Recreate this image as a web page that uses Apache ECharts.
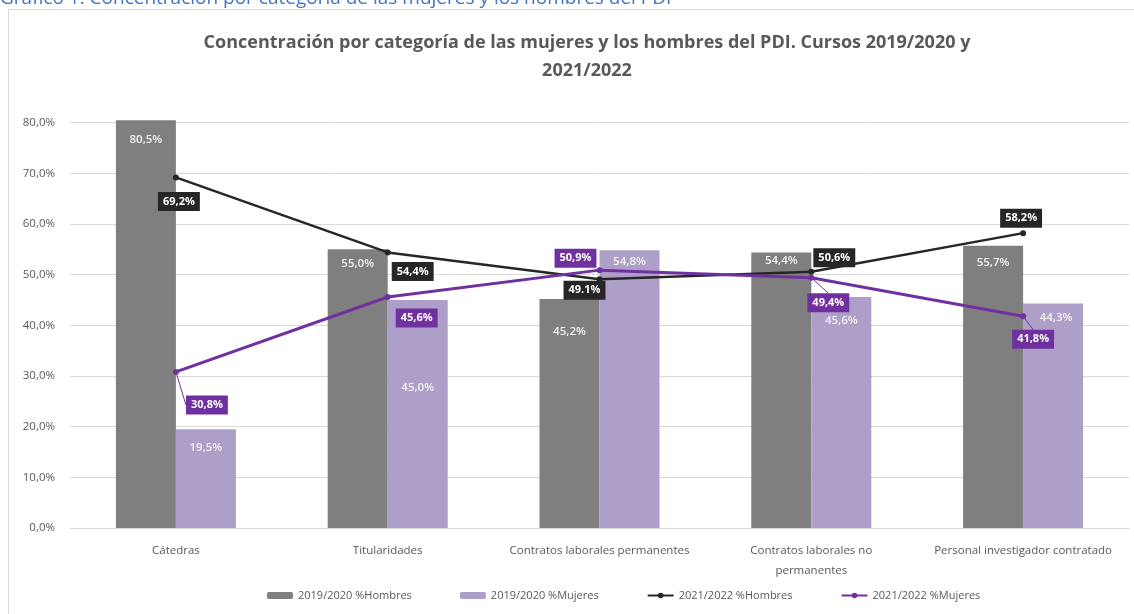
<!DOCTYPE html>
<html>
<head>
<meta charset="utf-8">
<script src="https://cdn.jsdelivr.net/npm/echarts@6/dist/echarts.min.js"></script>
<style>
  html, body { margin: 0; padding: 0; background: #fff; }
  #chart { width: 1134px; height: 614px; }
</style>
</head>
<body>
<div id="chart"></div>
<script>
// categorías y valores (%)
const categories = [
  'Cátedras',
  'Titularidades',
  'Contratos laborales permanentes',
  'Contratos laborales no\npermanentes',
  'Personal investigador contratado'
]
const hombres1920 = [80.5, 55.0, 45.2, 54.4, 55.7]
const mujeres1920 = [19.5, 45.0, 54.8, 45.6, 44.3]
const hombres2122 = [69.2, 54.4, 49.1, 50.6, 58.2]
const mujeres2122 = [30.8, 45.6, 50.9, 49.4, 41.8]
const yTicks = [0, 10, 20, 30, 40, 50, 60, 70, 80]

// desplazamiento de etiquetas (como en el original de Excel)
const barHOffsets = [[0, 9], [0, 3], [0, 22], [0, -3], [0, 6]]
const barMOffsets = [[0, 8], [0, 77], [0, 0], [0, 13], [3, 3]]
const lineHOffsets = [[3, 24], [25, 19], [-15, 11], [23, -14], [-2, -15]]
const lineMOffsets = [[31, 33], [29, 21], [-24, -12], [17, 25], [10, 23]]
const guideM = [0, 3, 4]

const fmt = v => v.toFixed(1).replace('.', ',') + '%'
const font = '"Open Sans", sans-serif'
const grey = '#595959'

const chart = echarts.init(document.getElementById('chart'))

function offsetLayout(arr) {
  return function(p) {
    const o = arr[p.dataIndex] || [0, 0]
    return { dx: o[0], dy: o[1] }
  }
}

chart.setOption({
  animation: false,
  title: {
    text: 'Concentración por categoría de las mujeres y los hombres del PDI. Cursos 2019/2020 y\n2021/2022',
    left: 582,
    top: 24,
    textAlign: 'center',
    textStyle: {
      fontFamily: font,
      fontSize: 18,
      fontWeight: 'bold',
      color: grey,
      lineHeight: 28
    }
  },
  graphic: [
    {
      type: 'rect',
      shape: { x: 8.5, y: 9.5, width: 1140, height: 640 },
      style: { fill: 'none', stroke: '#d9d9d9', lineWidth: 1 },
      silent: true
    },
    {
      type: 'text',
      left: 0,
      top: -11,
      style: {
        text: 'Gráfico 1. Concentración por categoría de las mujeres y los hombres del PDI',
        font: '19px "Open Sans", sans-serif',
        fill: '#4472c4'
      },
      silent: true
    }
  ],
  legend: {
    left: 262,
    bottom: 8,
    itemWidth: 26,
    itemHeight: 7,
    itemGap: 48,
    textStyle: { fontFamily: font, fontSize: 11, color: grey },
    data: ['2019/2020 %Hombres', '2019/2020 %Mujeres', '2021/2022 %Hombres', '2021/2022 %Mujeres']
  },
  grid: {
    left: 70,
    right: 5,
    top: 122.7,
    bottom: 86
  },
  xAxis: {
    type: 'category',
    data: categories,
    axisTick: { show: false },
    axisLine: { lineStyle: { color: '#d9d9d9' } },
    axisLabel: {
      interval: 0,
      fontFamily: font,
      fontSize: 11.5,
      color: grey,
      margin: 13,
      lineHeight: 20
    }
  },
  yAxis: {
    type: 'value',
    min: yTicks[0],
    max: yTicks[yTicks.length - 1],
    interval: 10,
    axisLabel: {
      fontFamily: font,
      fontSize: 11.5,
      color: grey,
      margin: 15,
      formatter: v => fmt(v)
    },
    axisLine: { show: false },
    axisTick: { show: false },
    splitLine: { lineStyle: { color: '#d9d9d9' } }
  },
  series: [
    {
      name: '2019/2020 %Hombres',
      type: 'bar',
      data: hombres1920,
      clip: false,
      barWidth: 60,
      barGap: '0%',
      itemStyle: { color: '#7f7f7f' },
      label: {
        show: true,
        position: 'insideTop',
        distance: 5,
        color: '#f2f2f2',
        fontFamily: font,
        fontSize: 11.5,
        fontWeight: 600,
        formatter: p => fmt(p.value)
      },
      labelLayout: offsetLayout(barHOffsets)
    },
    {
      name: '2019/2020 %Mujeres',
      type: 'bar',
      data: mujeres1920,
      clip: false,
      barWidth: 60,
      barGap: '0%',
      itemStyle: { color: '#ae9fc8' },
      label: {
        show: true,
        position: 'insideTop',
        distance: 5,
        color: '#f2f2f2',
        fontFamily: font,
        fontSize: 11.5,
        fontWeight: 600,
        formatter: p => fmt(p.value)
      },
      labelLayout: offsetLayout(barMOffsets)
    },
    {
      name: '2021/2022 %Hombres',
      type: 'line',
      data: hombres2122,
      symbol: 'circle',
      symbolSize: 6,
      z: 5,
      lineStyle: { color: '#262626', width: 2.5 },
      itemStyle: { color: '#262626' },
      label: {
        show: true,
        position: 'inside',
        backgroundColor: '#262626',
        padding: [4, 5],
        color: '#fff',
        fontFamily: font,
        fontSize: 11,
        fontWeight: 'bold',
        // el original muestra "49.1%" con punto
        formatter: p => p.dataIndex === 2 ? p.value.toFixed(1) + '%' : fmt(p.value)
      },
      labelLayout: offsetLayout(lineHOffsets)
    },
    {
      name: '2021/2022 %Mujeres',
      type: 'line',
      data: mujeres2122.map((v, i) => guideM.indexOf(i) >= 0 ? { value: v, labelLine: { show: true } } : v),
      symbol: 'circle',
      symbolSize: 6,
      z: 6,
      lineStyle: { color: '#7030a0', width: 3 },
      itemStyle: { color: '#7030a0' },
      label: {
        show: true,
        position: 'inside',
        backgroundColor: '#7030a0',
        padding: [4, 5],
        color: '#fff',
        fontFamily: font,
        fontSize: 11,
        fontWeight: 'bold',
        formatter: p => fmt(p.value)
      },
      labelLine: { show: false, lineStyle: { color: '#7030a0', width: 1 } },
      labelLayout: offsetLayout(lineMOffsets)
    }
  ]
})
</script>
</body>
</html>
